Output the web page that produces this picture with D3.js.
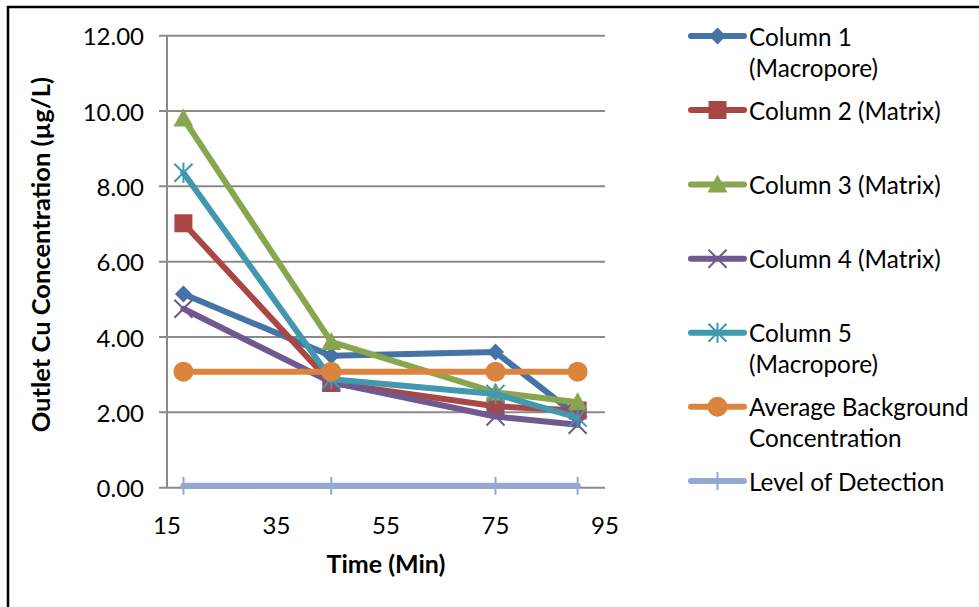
<!DOCTYPE html>
<html>
<head>
<meta charset="utf-8">
<script src="https://cdn.jsdelivr.net/npm/d3@7"></script>
<style>
  html, body { margin: 0; padding: 0; background: #fff; }
  svg { display: block; }
  text { font-family: Lato, "Open Sans", sans-serif; fill: #000; }
</style>
</head>
<body>
<svg id="chart" width="979" height="607"></svg>
<script>
// Sampling times (min)
const times = [18, 45, 75, 90];

// Outlet Cu concentration (µg/L) per column
const column1 = [5.14, 3.50, 3.60, 1.90];
const column2 = [7.02, 2.78, 2.16, 2.05];
const column3 = [9.80, 3.87, 2.53, 2.27];
const column4 = [4.75, 2.80, 1.89, 1.67];
const column5 = [8.36, 2.88, 2.49, 1.86];
const background = [3.08, 3.08, 3.08, 3.08];
const detection = [0.05, 0.05, 0.05, 0.05];

const seriesNames = [
  ["Column 1", "(Macropore)"],
  ["Column 2 (Matrix)"],
  ["Column 3 (Matrix)"],
  ["Column 4 (Matrix)"],
  ["Column 5", "(Macropore)"],
  ["Average Background", "Concentration"],
  ["Level of Detection"]
];
const seriesValues = [column1, column2, column3, column4, column5, background, detection];
const seriesColors = ["#4572A7", "#AA4643", "#89A54E", "#71588F", "#4198AF", "#DB843D", "#93A9CF"];
const seriesMarkers = ["diamond", "square", "triangle", "x", "star", "circle", "tick"];

const xTicks = [15, 35, 55, 75, 95];
const yTicks = [0, 2, 4, 6, 8, 10, 12];

const svg = d3.select("#chart");

// frame
svg.append("rect")
  .attr("x", 8).attr("y", 7).attr("width", 1000).attr("height", 700)
  .attr("fill", "none").attr("stroke", "#000").attr("stroke-width", 2.5);

const x = d3.scaleLinear().domain([15, 95]).range([167, 605]);
const y = d3.scaleLinear().domain([0, 12]).range([487.7, 35.7]);

const gridColor = "#8a8a8a";

// horizontal gridlines with outward tick stubs
const grid = svg.append("g");
grid.selectAll("line").data(yTicks).join("line")
  .attr("x1", 159).attr("x2", 605)
  .attr("y1", d => y(d)).attr("y2", d => y(d))
  .attr("stroke", gridColor).attr("stroke-width", 2);

// vertical value axis
svg.append("line")
  .attr("x1", x(15)).attr("x2", x(15))
  .attr("y1", y(12)).attr("y2", y(0))
  .attr("stroke", gridColor).attr("stroke-width", 2);

// y tick labels
svg.append("g").selectAll("text").data(yTicks).join("text")
  .attr("x", 144).attr("y", d => y(d))
  .attr("text-anchor", "end").attr("dominant-baseline", "central")
  .style("font-size", "24px")
  .text(d => d.toFixed(2));

// x tick labels
svg.append("g").selectAll("text").data(xTicks).join("text")
  .attr("x", d => x(d)).attr("y", 524)
  .attr("text-anchor", "middle").attr("dominant-baseline", "central")
  .style("font-size", "24px")
  .text(d => d);

// axis titles
svg.append("text")
  .attr("x", 386).attr("y", 563)
  .attr("text-anchor", "middle").attr("dominant-baseline", "central")
  .style("font-size", "25px").style("font-weight", "bold")
  .text("Time (Min)");

svg.append("text")
  .attr("transform", `translate(40, ${(y(12) + y(0)) / 2 - 7}) rotate(-90)`)
  .attr("text-anchor", "middle").attr("dominant-baseline", "central")
  .style("font-size", "25.5px").style("font-weight", "bold")
  .text("Outlet Cu Concentration (µg/L)");

// marker drawing
function drawMarker(g, type, color) {
  switch (type) {
    case "diamond":
      g.append("path").attr("d", "M0,-8.5L8.5,0L0,8.5L-8.5,0Z").attr("fill", color);
      break;
    case "square":
      g.append("rect").attr("x", -9).attr("y", -9).attr("width", 18).attr("height", 18).attr("fill", color);
      break;
    case "triangle":
      g.append("path").attr("d", "M0,-10L10,8L-10,8Z").attr("fill", color);
      break;
    case "x":
      g.append("path").attr("d", "M-9,-9L9,9M-9,9L9,-9")
        .attr("stroke", color).attr("stroke-width", 2).attr("fill", "none");
      break;
    case "star":
      g.append("path").attr("d", "M-9,-9L9,9M-9,9L9,-9M0,-10L0,10")
        .attr("stroke", color).attr("stroke-width", 2).attr("fill", "none");
      break;
    case "circle":
      g.append("circle").attr("r", 10).attr("fill", color);
      break;
    case "tick":
      g.append("path").attr("d", "M0,-9L0,9")
        .attr("stroke", color).attr("stroke-width", 2).attr("fill", "none");
      break;
  }
}

const line = d3.line().x(d => x(d[0])).y(d => y(d[1]));

// series
seriesValues.forEach((vals, i) => {
  const pts = times.map((t, k) => [t, vals[k]]);
  const g = svg.append("g");
  g.append("path").datum(pts)
    .attr("d", line)
    .attr("fill", "none")
    .attr("stroke", seriesColors[i])
    .attr("stroke-width", 6)
    .attr("stroke-linejoin", "round")
    .attr("stroke-linecap", "round");
  pts.forEach(p => {
    const mg = g.append("g").attr("transform", `translate(${x(p[0])},${y(p[1])})`);
    drawMarker(mg, seriesMarkers[i], seriesColors[i]);
  });
});

// legend
const legendY = [36, 110, 184.5, 258.7, 332.7, 406.7, 481];
const legend = svg.append("g");
seriesNames.forEach((name, i) => {
  const ly = legendY[i];
  legend.append("line")
    .attr("x1", 691).attr("x2", 744).attr("y1", ly).attr("y2", ly)
    .attr("stroke", seriesColors[i]).attr("stroke-width", 6)
    .attr("stroke-linecap", "round");
  const mg = legend.append("g").attr("transform", `translate(717.5,${ly})`);
  drawMarker(mg, seriesMarkers[i], seriesColors[i]);
  name.forEach((ln, j) => {
    legend.append("text")
      .attr("x", 749).attr("y", ly + j * 31)
      .attr("dominant-baseline", "central")
      .style("font-size", "24.3px")
      .text(ln);
  });
});
</script>
</body>
</html>
